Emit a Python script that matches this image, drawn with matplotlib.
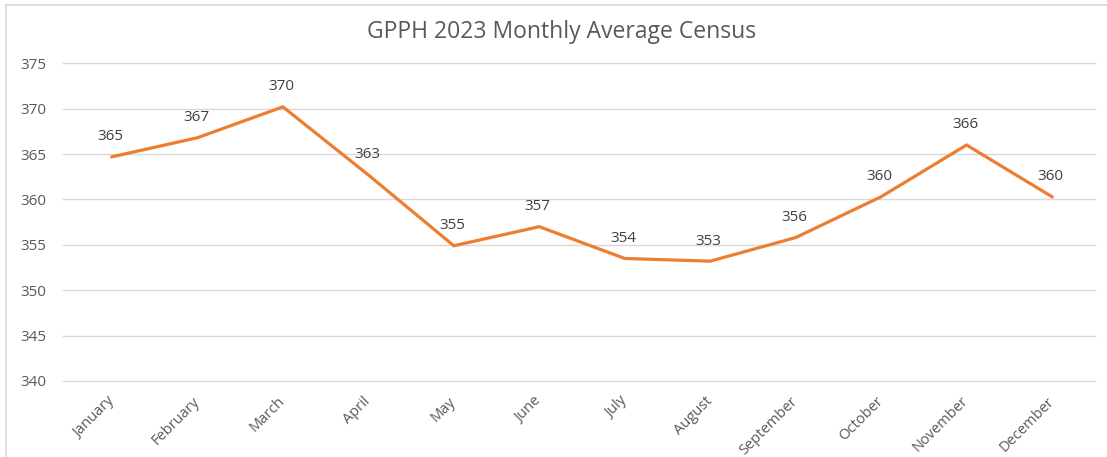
import matplotlib
matplotlib.use("Agg")
import matplotlib.pyplot as plt
from matplotlib.lines import Line2D

months = ["January", "February", "March", "April", "May", "June", "July",
          "August", "September", "October", "November", "December"]
census = [364.7, 366.8, 370.2, 362.7, 354.9, 357.0, 353.5, 353.2, 355.8, 360.3, 366.0, 360.3]
yticks = [340, 345, 350, 355, 360, 365, 370, 375]
title = "GPPH 2023 Monthly Average Census"

plt.rcParams['font.family'] = ['Open Sans', 'DejaVu Sans']

W, H = 1107, 457
fig = plt.figure(figsize=(W / 100, H / 100), dpi=100)
fig.patch.set_facecolor("white")

ax = fig.add_axes([63 / W, 1 - 381 / H, (1095 - 63) / W, (381 - 63.3) / H])
x = list(range(len(months)))
ax.plot(x, census, color="#ED7D31", linewidth=2.3, solid_joinstyle="miter")
ax.set_xlim(-0.573, len(months) - 1 + 0.503)
ax.set_ylim(340, 375)
ax.set_yticks(yticks)
ax.set_yticklabels([str(v) for v in yticks], fontsize=11, color="#595959")
ax.set_xticks(x)
ax.set_xticklabels(months, fontsize=10.5, color="#595959", rotation=45,
                   ha="right", va="center", rotation_mode="anchor")
ax.tick_params(axis="both", length=0)
ax.tick_params(axis="x", pad=13)
ax.tick_params(axis="y", pad=31)
for lbl in ax.get_yticklabels():
    lbl.set_horizontalalignment("left")
ax.grid(axis="y", color="#d9d9d9", linewidth=1)
for gl in ax.get_ygridlines():
    gl.set_clip_on(False)
ax.set_axisbelow(True)
for s in ax.spines.values():
    s.set_visible(False)

for xi, v in zip(x, census):
    ax.annotate(f"{round(v):.0f}", (xi, v), xytext=(-1, 14.5), textcoords="offset points",
                ha="center", va="center", fontsize=11, color="#404040")

fig.text(562 / W, 1 - 32 / H, title, ha="center", va="center", fontsize=16.5, color="#595959")

# chart area border (left and top)
fig.add_artist(Line2D([5.5 / W, 5.5 / W], [0, 1 - 4.5 / H], transform=fig.transFigure,
                      color="#d9d9d9", linewidth=1.2))
fig.add_artist(Line2D([5.5 / W, 1], [1 - 4.5 / H, 1 - 4.5 / H], transform=fig.transFigure,
                      color="#d9d9d9", linewidth=1.2))

fig.savefig("out.png", dpi=100, facecolor="white")
